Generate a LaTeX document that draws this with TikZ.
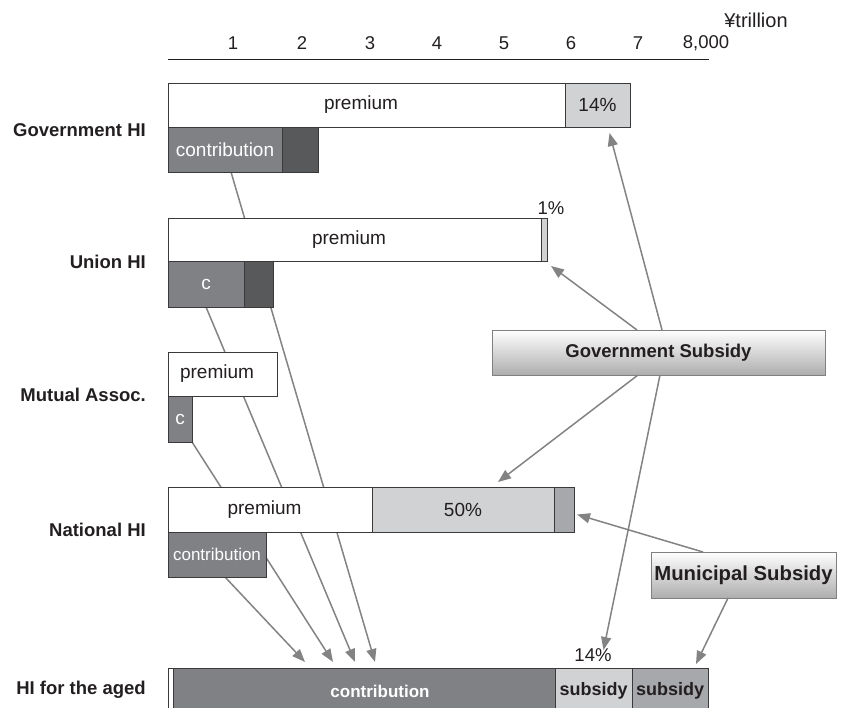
\documentclass[tikz,border=0pt]{standalone}
\usepackage{fontspec}
\setmainfont{Liberation Sans}
\usetikzlibrary{arrows.meta,calc}
\pgfdeclarelayer{bg}
\pgfsetlayers{bg,main}
\definecolor{cmid}{HTML}{808185}
\definecolor{cdark}{HTML}{58595B}
\definecolor{clight}{HTML}{D1D2D4}
\definecolor{cmed}{HTML}{A7A8AB}
\definecolor{cline}{HTML}{838383}
\definecolor{ctext}{HTML}{231F20}
\definecolor{cedge}{HTML}{3A3A3A}
\newcommand{\prem}{premium\hspace*{11pt}}
\tikzset{
 bar/.style={draw=cedge, line width=0.9pt, rectangle, inner sep=0pt, outer sep=0pt, anchor=north west, font=\fontsize{19}{21}\selectfont, text=ctext},
 lbl/.style={font=\bfseries\fontsize{18.5}{20}\selectfont, text=ctext, anchor=east, inner sep=0pt},
 num/.style={font=\fontsize{18.5}{20}\selectfont, text=ctext, inner sep=0pt},
 subbox/.style={draw=black!50, line width=0.8pt, top color=white, bottom color=black!32, inner sep=0pt, outer sep=0pt, anchor=north west, text=ctext},
 link/.style={draw=cline, line width=1.5pt},
 arr/.style={link, -{Triangle[length=13pt,width=10pt]}},
}
\begin{document}
\begin{tikzpicture}[x=1pt,y=-1pt]
\useasboundingbox (0,0) rectangle (845,708);
% axis
\coordinate (ax0) at (168,59);
\coordinate (ax1) at (709,59);
\draw[line width=0.9pt, ctext] (ax0) -- (ax1);
\node[num] (t1) at (233,43) {1};
\node[num] (t2) at (302,43) {2};
\node[num] (t3) at (370,43) {3};
\node[num] (t4) at (437,43) {4};
\node[num] (t5) at (504,43) {5};
\node[num] (t6) at (571,43) {6};
\node[num] (t7) at (638,43) {7};
\node[num] (t8) at (706,43) {8,000};
\node[num, font=\fontsize{20}{22}\selectfont] (unit) at (756,20) {¥trillion};
% left labels
\node[lbl] (lg) at (146,130) {Government HI};
\node[lbl] (lu) at (146,262) {Union HI};
\node[lbl] (lm) at (146,395) {Mutual Assoc.};
\node[lbl] (ln) at (146,530) {National HI};
\node[lbl] (la) at (146,690) {HI for the aged};
% Government HI
\node[bar, fill=white, minimum width=397pt, minimum height=44pt] (gp) at (168,83) {\prem};
\node[bar, fill=clight, minimum width=65pt, minimum height=44pt] (g14) at (565,83) {14\%};
\node[bar, fill=cmid, text=white, minimum width=114pt, minimum height=45pt] (gc) at (168,127) {contribution};
\node[bar, fill=cdark, minimum width=36pt, minimum height=45pt] (gd) at (282,127) {};
% Union HI
\node[bar, fill=white, minimum width=373pt, minimum height=43pt] (up) at (168,218) {\prem};
\node[bar, fill=clight, minimum width=6pt, minimum height=43pt] (u1) at (541,218) {};
\node[num] (u1l) at (551,208) {1\%};
\node[bar, fill=cmid, text=white, minimum width=76pt, minimum height=46pt] (uc) at (168,261) {c};
\node[bar, fill=cdark, minimum width=29pt, minimum height=46pt] (ud) at (244,261) {};
% Mutual Assoc.
\node[bar, fill=white, minimum width=109pt, minimum height=44pt] (mp) at (168,352) {\prem};
\node[bar, fill=cmid, text=white, minimum width=24pt, minimum height=46pt] (mc) at (168,396) {c};
% National HI
\node[bar, fill=white, minimum width=204pt, minimum height=45pt] (np) at (168,487) {\prem};
\node[bar, fill=clight, minimum width=182pt, minimum height=45pt] (n50) at (372,487) {50\%};
\node[bar, fill=cmed, minimum width=20pt, minimum height=45pt] (nm) at (554,487) {};
\node[bar, fill=cmid, text=white, minimum width=98pt, minimum height=45pt, font=\fontsize{17}{19}\selectfont] (nc) at (168,532) {contribution};
% HI for the aged
\node[bar, fill=white, minimum width=5pt, minimum height=46pt] (aw) at (168,668) {};
\node[bar, fill=cmid, text=white, minimum width=382pt, minimum height=46pt, font=\bfseries\fontsize{17}{19}\selectfont] (ac) at (173,668) {\hspace*{32pt}contribution};
\node[bar, fill=clight, minimum width=77pt, minimum height=46pt, font=\bfseries\fontsize{18}{20}\selectfont] (as1) at (555,668) {subsidy};
\node[bar, fill=cmed, minimum width=76pt, minimum height=46pt, font=\bfseries\fontsize{18}{20}\selectfont] (as2) at (632,668) {subsidy};
\node[num] (as1l) at (593,655) {14\%};
% subsidy boxes
\node[subbox, minimum width=333pt, minimum height=45pt, font=\bfseries\fontsize{18.5}{20}\selectfont] (gs) at (492,330) {Government Subsidy};
\node[subbox, minimum width=185pt, minimum height=46pt, font=\bfseries\fontsize{20.3}{22}\selectfont] (ms) at (651,552) {Municipal Subsidy};
% contribution flows (behind bars)
\begin{pgfonlayer}{bg}
\draw[arr] ($(gc.south west)+(63,0)$) -- ($(ac.north west)+(202,-6)$);
\draw[arr] ($(uc.south west)+(38,0)$) -- ($(ac.north west)+(182,-6)$);
\draw[arr] (mc.south east) -- ($(ac.north west)+(160,-6)$);
\draw[arr] ($(nc.south west)+(57,0)$) -- ($(ac.north west)+(132,-6)$);
\end{pgfonlayer}
% government subsidy flows
\draw[arr] ($(gs.north west)+(145,0)$) -- ($(u1.south east)+(4,5)$);
\draw[arr] ($(gs.north west)+(170,0)$) -- ($(g14.south)+(12,6)$);
\draw[arr] ($(gs.south west)+(146,0)$) -- ($(n50.north)+(35,-5)$);
\draw[arr] ($(gs.south west)+(168,0)$) -- ($(as1.north)+(10,-18)$);
% municipal subsidy flows
\draw[arr] ($(ms.north west)+(52,0)$) -- ($(nm.east)+(3,5)$);
\draw[arr] ($(ms.south west)+(77,0)$) -- ($(as2.north)+(26,-4)$);
\end{tikzpicture}
\end{document}
